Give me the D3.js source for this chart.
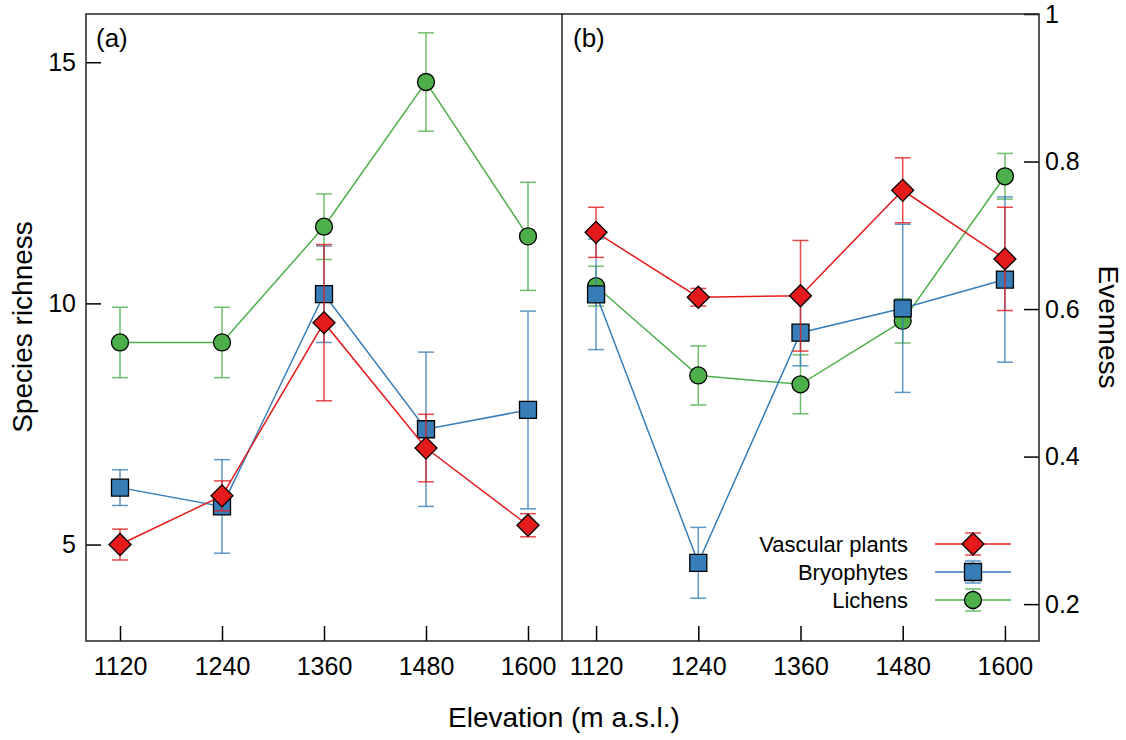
<!DOCTYPE html>
<html>
<head>
<meta charset="utf-8">
<script src="https://cdn.jsdelivr.net/npm/d3@7.9.0/dist/d3.min.js"></script>
<style>
  body { margin: 0; background: #fff; }
  svg { display: block; font-family: Arial, "Liberation Sans", sans-serif; }
  .tick text { font-size: 25px; fill: #000; }
  .tick line { stroke: #000; stroke-width: 1.5; }
</style>
</head>
<body>
<svg width="1126" height="740"></svg>
<script>
// elevation levels (m a.s.l.)
const elevations = [1120, 1240, 1360, 1480, 1600];
const seriesNames = ["Vascular plants", "Bryophytes", "Lichens"];

// (a) species richness, mean and error
const richVasc = [5.0, 6.01, 9.6, 7.0, 5.4];
const richVascErr = [0.32, 0.31, 1.62, 0.7, 0.24];
const richBryo = [6.18, 5.79, 10.19, 7.39, 7.79];
const richBryoErr = [0.37, 0.97, 1.0, 1.6, 2.05];
const richLich = [9.19, 9.19, 11.59, 14.59, 11.39];
const richLichErr = [0.73, 0.73, 0.68, 1.02, 1.12];

// (b) evenness, mean and error
const evenVasc = [0.704, 0.616, 0.618, 0.761, 0.668];
const evenVascErr = [0.034, 0.012, 0.075, 0.044, 0.07];
const evenBryo = [0.62, 0.256, 0.568, 0.601, 0.64];
const evenBryoErr = [0.075, 0.048, 0.045, 0.114, 0.112];
const evenLich = [0.631, 0.51, 0.498, 0.584, 0.78];
const evenLichErr = [0.027, 0.04, 0.04, 0.03, 0.031];

const richTicks = [5, 10, 15];
const evenTicks = [0.2, 0.4, 0.6, 0.8, 1];

const colors = { "Vascular plants": "#e41a1c", "Bryophytes": "#377eb8", "Lichens": "#4daf4a" };
const shapes = {
  "Vascular plants": d3.symbol().type(d3.symbolSquare).size(242),
  "Bryophytes": d3.symbol().type(d3.symbolSquare).size(289),
  "Lichens": d3.symbol().type(d3.symbolCircle).size(227)
};
const rotations = { "Vascular plants": 45, "Bryophytes": 0, "Lichens": 0 };

const svg = d3.select("svg");
const yTop = 14, yBot = 641, xa0 = 86, xmid = 562, xb1 = 1039;

const xA = d3.scaleLinear().domain([1080, 1640]).range([xa0, xmid]);
const xB = d3.scaleLinear().domain([1080, 1640]).range([xmid, xb1]);
const yA = d3.scaleLinear().domain([3, 16]).range([yBot, yTop]);
const yB = d3.scaleLinear().domain([0.15, 1]).range([yBot, yTop]);

function build(means, errs) {
  return seriesNames.map((name, k) => ({
    name,
    pts: elevations.map((e, i) => ({ x: e, y: means[k][i], err: errs[k][i] }))
  }));
}
const dataA = build([richVasc, richBryo, richLich], [richVascErr, richBryoErr, richLichErr]);
const dataB = build([evenVasc, evenBryo, evenLich], [evenVascErr, evenBryoErr, evenLichErr]);

function drawPanel(data, x, y) {
  const g = svg.append("g");
  // lichens first, vascular plants on top
  data.slice().reverse().forEach(s => {
    const c = colors[s.name];
    const sg = g.append("g");
    const eb = sg.selectAll(".eb").data(s.pts).join("g")
      .attr("stroke", c).attr("stroke-opacity", 0.8).attr("stroke-width", 1.5);
    eb.append("line")
      .attr("x1", d => x(d.x)).attr("x2", d => x(d.x))
      .attr("y1", d => y(d.y - d.err)).attr("y2", d => y(d.y + d.err));
    eb.append("line")
      .attr("x1", d => x(d.x) - 8).attr("x2", d => x(d.x) + 8)
      .attr("y1", d => y(d.y + d.err)).attr("y2", d => y(d.y + d.err));
    eb.append("line")
      .attr("x1", d => x(d.x) - 8).attr("x2", d => x(d.x) + 8)
      .attr("y1", d => y(d.y - d.err)).attr("y2", d => y(d.y - d.err));
    sg.append("path")
      .datum(s.pts)
      .attr("fill", "none").attr("stroke", c).attr("stroke-width", 1.5)
      .attr("d", d3.line().x(d => x(d.x)).y(d => y(d.y)));
    sg.selectAll(".mk").data(s.pts).join("path")
      .attr("d", shapes[s.name])
      .attr("transform", d => `translate(${x(d.x)},${y(d.y)}) rotate(${rotations[s.name]})`)
      .attr("fill", c).attr("stroke", "#000").attr("stroke-width", 1.3);
  });
}

drawPanel(dataA, xA, yA);
drawPanel(dataB, xB, yB);

// axes with inward ticks
svg.append("g").attr("transform", `translate(${xa0},0)`)
  .call(d3.axisLeft(yA).tickValues(richTicks).tickSizeInner(-15).tickSizeOuter(0).tickPadding(10))
  .call(g => g.select(".domain").remove());
svg.append("g").attr("transform", `translate(${xb1},0)`)
  .call(d3.axisRight(yB).tickValues(evenTicks).tickFormat(d => String(d))
    .tickSizeInner(-15).tickSizeOuter(0).tickPadding(6))
  .call(g => g.select(".domain").remove());
[xA, xB].forEach(x => {
  svg.append("g").attr("transform", `translate(0,${yBot})`)
    .call(d3.axisBottom(x).tickValues(elevations).tickFormat(d3.format("d"))
      .tickSizeInner(-15).tickSizeOuter(0).tickPadding(16))
    .call(g => g.select(".domain").remove());
});

// frame
svg.append("rect").attr("x", xa0).attr("y", yTop).attr("width", xb1 - xa0).attr("height", yBot - yTop)
  .attr("fill", "none").attr("stroke", "#222").attr("stroke-width", 1.5);
svg.append("line").attr("x1", xmid).attr("x2", xmid).attr("y1", yTop).attr("y2", yBot)
  .attr("stroke", "#222").attr("stroke-width", 1.5);

// panel labels
svg.append("text").attr("x", 96).attr("y", 47).attr("font-size", 26).text("(a)");
svg.append("text").attr("x", 573).attr("y", 47).attr("font-size", 26).text("(b)");

// axis titles
svg.append("text").attr("x", 564).attr("y", 727).attr("text-anchor", "middle")
  .attr("font-size", 28).text("Elevation (m a.s.l.)");
svg.append("text").attr("transform", "translate(32,327) rotate(-90)").attr("text-anchor", "middle")
  .attr("font-size", 28).text("Species richness");
svg.append("text").attr("transform", "translate(1099,327) rotate(90)").attr("text-anchor", "middle")
  .attr("font-size", 28).text("Evenness");

// legend
const legY = d3.scalePoint().domain(seriesNames).range([544, 600]);
const leg = svg.append("g").selectAll("g").data(seriesNames).join("g")
  .attr("transform", d => `translate(0,${legY(d)})`);
leg.append("text").attr("x", 908).attr("dy", "0.35em").attr("text-anchor", "end")
  .attr("font-size", 22).text(d => d);
leg.append("line").attr("x1", 935).attr("x2", 1011)
  .attr("stroke", d => colors[d]).attr("stroke-width", 1.5);
leg.append("line").attr("x1", 973).attr("x2", 973).attr("y1", -11).attr("y2", 11)
  .attr("stroke", d => colors[d]).attr("stroke-opacity", 0.8).attr("stroke-width", 1.5);
[-11, 11].forEach(dy => {
  leg.append("line").attr("x1", 965).attr("x2", 981).attr("y1", dy).attr("y2", dy)
    .attr("stroke", d => colors[d]).attr("stroke-opacity", 0.8).attr("stroke-width", 1.5);
});
leg.append("path").attr("d", d => shapes[d]())
  .attr("transform", d => `translate(973,0) rotate(${rotations[d]})`)
  .attr("fill", d => colors[d]).attr("stroke", "#000").attr("stroke-width", 1.3);
</script>
</body>
</html>
